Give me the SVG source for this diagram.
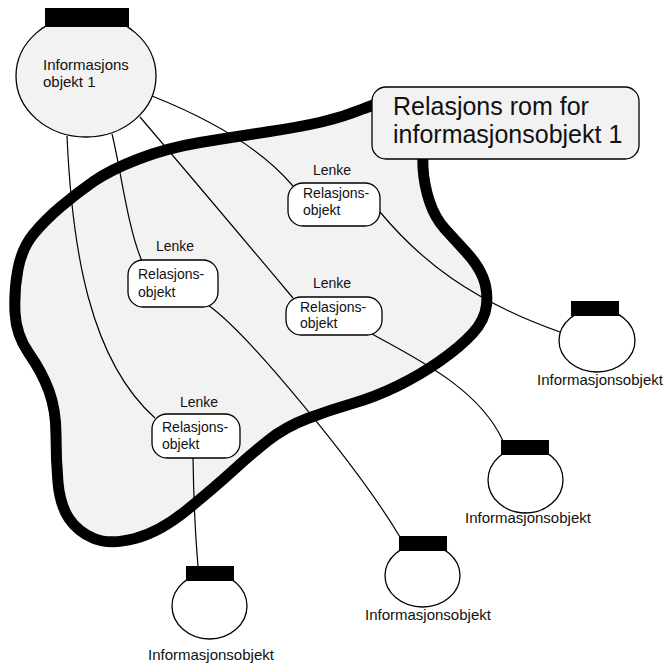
<svg xmlns="http://www.w3.org/2000/svg" width="665" height="665" viewBox="0 0 665 665">
  <defs>
    <style>
      text { font-family: "Liberation Sans", Arial, sans-serif; fill: #111; }
      .t15 { font-size: 15px; }
      .t14 { font-size: 14px; }
      .title { font-size: 25px; }
      .conn { fill: none; stroke: #000; stroke-width: 1.2; }
      .rel { fill: #fff; stroke: #000; stroke-width: 1.3; }
      .info { fill: #fff; stroke: #000; stroke-width: 1.3; }
      .cap { fill: #000; }
      .space { fill: #f2f2f2; stroke: #000; stroke-width: 11; stroke-linejoin: round; }
    </style>
  </defs>

  <!-- relation space outline -->
  <path id="relation-space" class="space" d="M 400,95 L 364,108.5 Q 343,117 321.5,122 Q 300,127 266.5,132 Q 233,137 200,142.5 Q 167,148 138.5,159 Q 110,170 93.5,181.5 Q 77,193 61,206.5 Q 45,220 33.5,234 Q 22,248 18,269 Q 14,290 15,312.5 Q 16,335 29,353.5 Q 42,372 49,391 Q 56,410 56,435 Q 56,460 58,482.5 Q 60,505 69,518.5 Q 78,532 94,538.5 Q 110,545 135,538.5 Q 160,532 187.5,509.5 Q 215,487 232.5,471 Q 250,455 267.5,441 Q 285,427 307.5,418.5 Q 330,410 352.5,403.5 Q 375,397 397.5,386 Q 420,375 440,361 Q 460,347 472.5,333.5 Q 485,320 486.5,305 Q 488,290 483,277.5 Q 478,265 466.5,252.5 Q 455,240 445,229 Q 435,218 429.5,201.5 Q 424,185 423,167.5 L 422,120 Z"/>

  <!-- connectors -->
  <g id="connectors">
    <path class="conn" d="M 152,96 Q 250,135 293,186"/>
    <path class="conn" d="M 112,134 C 120,165 128,230 142,261"/>
    <path class="conn" d="M 140,117 Q 215,205 293,298"/>
    <path class="conn" d="M 67,136 C 72,250 90,360 155,418"/>
    <path class="conn" d="M 380,212 C 420,260 470,300 560,332"/>
    <path class="conn" d="M 208,305 C 250,335 360,470 400,537"/>
    <path class="conn" d="M 370,333 C 420,360 480,390 503,441"/>
    <path class="conn" d="M 193,458 Q 194,520 198,566"/>
  </g>

  <!-- title label -->
  <g id="title">
    <rect x="372" y="87" width="267" height="72" rx="14" ry="14" fill="#f2f2f2" stroke="#000" stroke-width="1.3"/>
    <text class="title" x="393" y="115">Relasjons rom for</text>
    <text class="title" x="393" y="143">informasjonsobjekt 1</text>
  </g>

  <!-- main information object -->
  <g id="info-main">
    <ellipse cx="86" cy="76" rx="70" ry="61" fill="#f2f2f2" stroke="#000" stroke-width="1.3"/>
    <rect class="cap" x="45" y="8" width="84" height="19"/>
    <text class="t15" x="43" y="70">Informasjons</text>
    <text class="t15" x="43" y="87">objekt 1</text>
  </g>

  <!-- relation objects -->
  <g id="rel-1">
    <text class="t14" x="313" y="175">Lenke</text>
    <rect class="rel" x="288" y="183" width="92" height="43" rx="15" ry="15"/>
    <text class="t14" x="303" y="198">Relasjons-</text>
    <text class="t14" x="303" y="215">objekt</text>
  </g>
  <g id="rel-2">
    <text class="t14" x="156" y="251">Lenke</text>
    <rect class="rel" x="128" y="260" width="90" height="47" rx="15" ry="15"/>
    <text class="t14" x="138" y="279">Relasjons-</text>
    <text class="t14" x="138" y="297">objekt</text>
  </g>
  <g id="rel-3">
    <text class="t14" x="313" y="288">Lenke</text>
    <rect class="rel" x="286" y="297" width="96" height="38" rx="15" ry="15"/>
    <text class="t14" x="300" y="312">Relasjons-</text>
    <text class="t14" x="300" y="328">objekt</text>
  </g>
  <g id="rel-4">
    <text class="t14" x="180" y="407">Lenke</text>
    <rect class="rel" x="152" y="414" width="88" height="44" rx="15" ry="15"/>
    <text class="t14" x="162" y="432">Relasjons-</text>
    <text class="t14" x="162" y="449">objekt</text>
  </g>

  <!-- related information objects -->
  <g id="info-1">
    <ellipse class="info" cx="597" cy="340.5" rx="38" ry="31.5"/>
    <rect class="cap" x="571" y="301" width="48" height="15"/>
    <text class="t15" x="537" y="385">Informasjonsobjekt</text>
  </g>
  <g id="info-2">
    <ellipse class="info" cx="525.5" cy="480" rx="37.5" ry="33"/>
    <rect class="cap" x="501" y="440" width="48" height="15"/>
    <text class="t15" x="465" y="523">Informasjonsobjekt</text>
  </g>
  <g id="info-3">
    <ellipse class="info" cx="422.5" cy="575.5" rx="37.5" ry="31.5"/>
    <rect class="cap" x="399" y="536" width="48" height="15"/>
    <text class="t15" x="365" y="620">Informasjonsobjekt</text>
  </g>
  <g id="info-4">
    <ellipse class="info" cx="209.5" cy="606" rx="37.5" ry="33"/>
    <rect class="cap" x="186" y="566" width="48" height="15"/>
    <text class="t15" x="148" y="660">Informasjonsobjekt</text>
  </g>
</svg>
